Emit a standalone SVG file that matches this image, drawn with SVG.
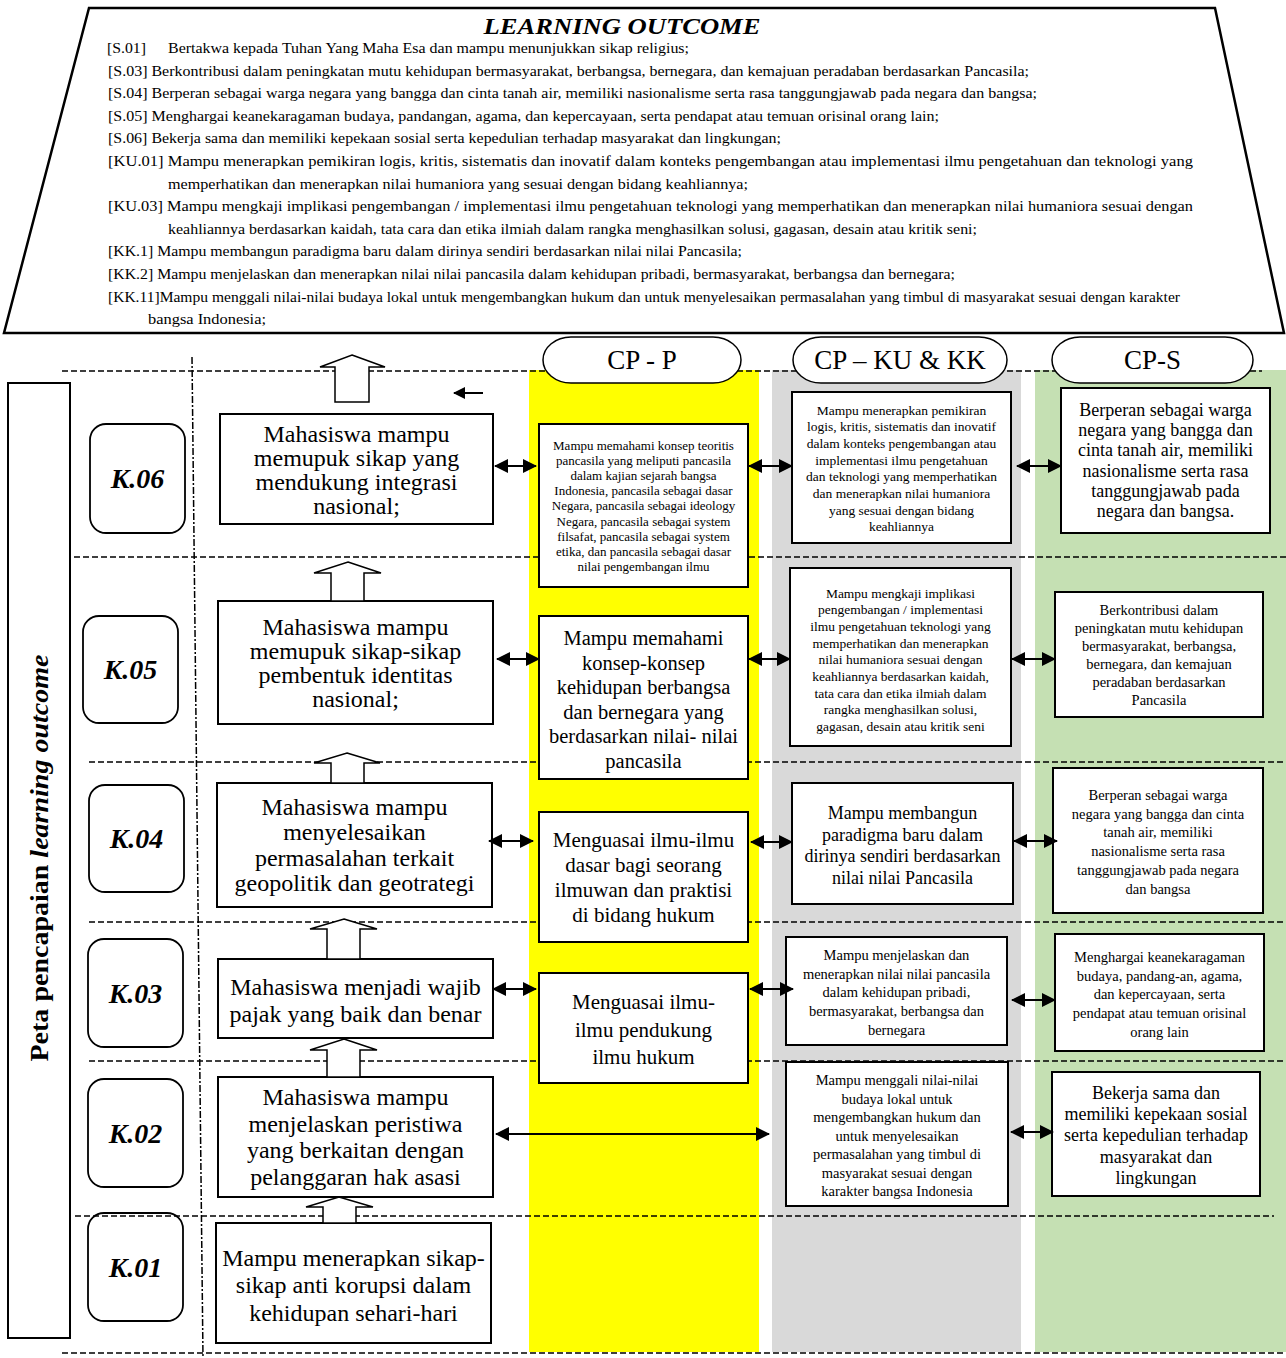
<svg xmlns="http://www.w3.org/2000/svg" width="1286" height="1358" viewBox="0 0 1286 1358">
<defs>
<style>
text{font-family:"Liberation Serif","Times New Roman",serif;fill:#000}
.lo{font-size:14px}
.bx{fill:#fff;stroke:#000;stroke-width:2}
.kb{fill:none;stroke:#000;stroke-width:1.8}
.kt{font-size:28px;font-weight:bold;font-style:italic;text-anchor:middle}
.dl{stroke:#000;stroke-width:1.5;stroke-dasharray:6,3;fill:none}
.ov{fill:#fff;stroke:#000;stroke-width:1.5}
.hd{font-size:27px;text-anchor:middle}
.m{text-anchor:middle}
.t23{font-size:24px}
.t21{font-size:20.5px}
.t18{font-size:18px}
.t145{font-size:14.5px}
.t135{font-size:13.5px}
.t13{font-size:13px}
.ba{fill:#fff;stroke:#000;stroke-width:1.5}
.ar{stroke:#000;stroke-width:2;fill:none;marker-start:url(#ah);marker-end:url(#ah)}
</style>
<marker id="ah" markerUnits="userSpaceOnUse" markerWidth="14" markerHeight="14" refX="13" refY="7" orient="auto-start-reverse"><path d="M0,0 L14,7 L0,14 z" fill="#000"/></marker>
<marker id="ah2" markerUnits="userSpaceOnUse" markerWidth="12" markerHeight="12" refX="11" refY="6" orient="auto"><path d="M0,0 L12,6 L0,12 z" fill="#000"/></marker>
</defs>
<rect width="1286" height="1358" fill="#fff"/>

<g id="learning-outcome">
<polygon points="89,8 1215,8 1284,333 4,333" fill="#fff" stroke="#000" stroke-width="2.5"/>
<text x="622" y="34" font-size="23" font-weight="bold" font-style="italic" text-anchor="middle" textLength="277" lengthAdjust="spacingAndGlyphs">LEARNING OUTCOME</text>
<text class="lo" x="107" y="53" textLength="39" lengthAdjust="spacingAndGlyphs">[S.01]</text>
<text class="lo" x="168" y="53" textLength="521" lengthAdjust="spacingAndGlyphs">Bertakwa kepada Tuhan Yang Maha Esa dan mampu menunjukkan sikap religius;</text>
<text class="lo" x="108" y="75.6" textLength="921" lengthAdjust="spacingAndGlyphs">[S.03] Berkontribusi dalam peningkatan mutu kehidupan bermasyarakat, berbangsa, bernegara, dan kemajuan peradaban berdasarkan Pancasila;</text>
<text class="lo" x="108" y="98.2" textLength="929" lengthAdjust="spacingAndGlyphs">[S.04] Berperan sebagai warga negara yang bangga dan cinta tanah air, memiliki nasionalisme serta rasa tanggungjawab pada negara dan bangsa;</text>
<text class="lo" x="108" y="120.8" textLength="831" lengthAdjust="spacingAndGlyphs">[S.05]  Menghargai keanekaragaman budaya, pandangan, agama, dan kepercayaan, serta pendapat atau temuan orisinal orang lain;</text>
<text class="lo" x="108" y="143.4" textLength="673" lengthAdjust="spacingAndGlyphs">[S.06]  Bekerja sama dan memiliki kepekaan sosial serta kepedulian terhadap masyarakat dan lingkungan;</text>
<text class="lo" x="108" y="166" textLength="1085" lengthAdjust="spacingAndGlyphs">[KU.01] Mampu menerapkan pemikiran logis, kritis, sistematis dan inovatif dalam konteks pengembangan atau implementasi ilmu pengetahuan dan teknologi yang</text>
<text class="lo" x="168" y="188.6" textLength="580" lengthAdjust="spacingAndGlyphs">memperhatikan dan menerapkan nilai  humaniora yang sesuai dengan bidang keahliannya;</text>
<text class="lo" x="108" y="211.2" textLength="1085" lengthAdjust="spacingAndGlyphs">[KU.03] Mampu mengkaji implikasi pengembangan / implementasi ilmu pengetahuan teknologi yang memperhatikan dan menerapkan nilai humaniora sesuai dengan</text>
<text class="lo" x="168" y="233.8" textLength="809" lengthAdjust="spacingAndGlyphs">keahliannya berdasarkan kaidah, tata cara dan etika ilmiah dalam rangka menghasilkan solusi, gagasan, desain atau kritik seni;</text>
<text class="lo" x="108" y="256.4" textLength="634" lengthAdjust="spacingAndGlyphs">[KK.1] Mampu membangun paradigma baru dalam dirinya sendiri berdasarkan nilai nilai Pancasila;</text>
<text class="lo" x="108" y="279" textLength="847" lengthAdjust="spacingAndGlyphs">[KK.2] Mampu menjelaskan dan menerapkan nilai nilai pancasila dalam kehidupan pribadi, bermasyarakat, berbangsa dan bernegara;</text>
<text class="lo" x="108" y="301.6" textLength="1072" lengthAdjust="spacingAndGlyphs">[KK.11]Mampu menggali nilai-nilai budaya lokal untuk mengembangkan hukum dan untuk menyelesaikan permasalahan yang timbul di masyarakat sesuai dengan karakter</text>
<text class="lo" x="148" y="324" textLength="118" lengthAdjust="spacingAndGlyphs">bangsa Indonesia;</text>
</g>

<g id="columns">
<rect x="529" y="370" width="230" height="982" fill="#FFFF00"/>
<rect x="772" y="370" width="249" height="982" fill="#D9D9D9"/>
<rect x="1035" y="370" width="251" height="982" fill="#C5E0B3"/>
</g>

<g id="grid">
<line class="dl" x1="62" y1="371" x2="1262" y2="371"/>
<line class="dl" x1="74" y1="557" x2="1286" y2="557"/>
<line class="dl" x1="89" y1="762" x2="1286" y2="762"/>
<line class="dl" x1="89" y1="922" x2="1286" y2="922"/>
<line class="dl" x1="89" y1="1061" x2="1286" y2="1061"/>
<line class="dl" x1="75" y1="1216" x2="1274" y2="1216"/>
<line class="dl" x1="62" y1="1353" x2="1286" y2="1353"/>
<line x1="192" y1="357" x2="203" y2="1358" stroke="#000" stroke-width="1.5" stroke-dasharray="7,2,2,2"/>
</g>

<g id="side-label">
<rect x="8" y="383" width="62" height="955" fill="#fff" stroke="#000" stroke-width="2"/>
<text transform="translate(48,858) rotate(-90)" font-size="25" font-weight="bold" text-anchor="middle" textLength="407" lengthAdjust="spacingAndGlyphs">Peta pencapaian <tspan font-style="italic">learning outcome</tspan></text>
</g>

<g id="header-cp-p"><rect class="ov" x="543" y="337" width="198" height="46" rx="28" ry="23"/><text class="hd" x="642" y="369">CP - P</text></g>
<g id="header-cp-ku-kk"><rect class="ov" x="793" y="337" width="214" height="46" rx="28" ry="23"/><text class="hd" x="900" y="369">CP – KU &amp; KK</text></g>
<g id="header-cp-s"><rect class="ov" x="1052" y="337" width="201" height="46" rx="28" ry="23"/><text class="hd" x="1152.5" y="369">CP-S</text></g>

<g id="k06"><rect class="kb" x="90" y="424" width="95" height="109" rx="16"/><text class="kt" x="137.5" y="488">K.06</text></g>
<g id="k05"><rect class="kb" x="83" y="616" width="95" height="107" rx="16"/><text class="kt" x="130.5" y="679">K.05</text></g>
<g id="k04"><rect class="kb" x="89" y="785" width="95" height="107" rx="16"/><text class="kt" x="136.5" y="848">K.04</text></g>
<g id="k03"><rect class="kb" x="88" y="939" width="95" height="108" rx="16"/><text class="kt" x="135.5" y="1003">K.03</text></g>
<g id="k02"><rect class="kb" x="88" y="1079" width="95" height="108" rx="16"/><text class="kt" x="135.5" y="1143">K.02</text></g>
<g id="k01"><rect class="kb" x="88" y="1213" width="95" height="108" rx="16"/><text class="kt" x="135.5" y="1277">K.01</text></g>

<g id="b6"><rect class="bx" x="220" y="414" width="273" height="110"/>
<text class="m t23"><tspan x="356.5" y="442">Mahasiswa mampu</tspan><tspan x="356.5" y="466">memupuk sikap yang</tspan><tspan x="356.5" y="490">mendukung integrasi</tspan><tspan x="356.5" y="514">nasional;</tspan></text></g>
<g id="b5"><rect class="bx" x="218" y="601" width="275" height="123"/>
<text class="m t23"><tspan x="355.5" y="634.5">Mahasiswa mampu</tspan><tspan x="355.5" y="658.5">memupuk sikap-sikap</tspan><tspan x="355.5" y="682.5">pembentuk identitas</tspan><tspan x="355.5" y="706.5">nasional;</tspan></text></g>
<g id="b4"><rect class="bx" x="217" y="783" width="275" height="124"/>
<text class="m t23"><tspan x="354.5" y="815">Mahasiswa mampu</tspan><tspan x="354.5" y="840">menyelesaikan</tspan><tspan x="354.5" y="866">permasalahan terkait</tspan><tspan x="354.5" y="891">geopolitik dan geotrategi</tspan></text></g>
<g id="b3"><rect class="bx" x="218" y="959" width="275" height="79"/>
<text class="m t23"><tspan x="355.5" y="995">Mahasiswa menjadi wajib</tspan><tspan x="355.5" y="1022">pajak yang baik dan benar</tspan></text></g>
<g id="b2"><rect class="bx" x="218" y="1077" width="275" height="120"/>
<text class="m t23"><tspan x="355.5" y="1105">Mahasiswa mampu</tspan><tspan x="355.5" y="1132">menjelaskan peristiwa</tspan><tspan x="355.5" y="1158">yang berkaitan dengan</tspan><tspan x="355.5" y="1185">pelanggaran hak asasi</tspan></text></g>
<g id="b1"><rect class="bx" x="216" y="1223" width="275" height="120"/>
<text class="m t23"><tspan x="353.5" y="1266">Mampu menerapkan sikap-</tspan><tspan x="353.5" y="1293">sikap anti korupsi dalam</tspan><tspan x="353.5" y="1321">kehidupan sehari-hari</tspan></text></g>

<g id="p1"><rect class="bx" x="539" y="424" width="209" height="163"/>
<text class="m t13"><tspan x="643.5" y="449.5">Mampu memahami konsep teoritis</tspan><tspan x="643.5" y="464.7">pancasila yang meliputi pancasila</tspan><tspan x="643.5" y="479.9">dalam kajian sejarah bangsa</tspan><tspan x="643.5" y="495.1">Indonesia, pancasila sebagai dasar</tspan><tspan x="643.5" y="510.3">Negara, pancasila sebagai ideology</tspan><tspan x="643.5" y="525.5">Negara, pancasila sebagai system</tspan><tspan x="643.5" y="540.7">filsafat, pancasila sebagai system</tspan><tspan x="643.5" y="555.9">etika, dan pancasila sebagai dasar</tspan><tspan x="643.5" y="571.1">nilai pengembangan ilmu</tspan></text></g>
<g id="p2"><rect class="bx" x="539" y="616" width="209" height="163"/>
<text class="m t21"><tspan x="643.5" y="645">Mampu memahami</tspan><tspan x="643.5" y="669.5">konsep-konsep</tspan><tspan x="643.5" y="694">kehidupan berbangsa</tspan><tspan x="643.5" y="718.5">dan bernegara yang</tspan><tspan x="643.5" y="743">berdasarkan nilai- nilai</tspan><tspan x="643.5" y="767.5">pancasila</tspan></text></g>
<g id="p3"><rect class="bx" x="539" y="812" width="209" height="130"/>
<text class="m" font-size="21"><tspan x="643.5" y="847">Menguasai ilmu-ilmu</tspan><tspan x="643.5" y="872">dasar bagi seorang</tspan><tspan x="643.5" y="897">ilmuwan dan praktisi</tspan><tspan x="643.5" y="922">di bidang hukum</tspan></text></g>
<g id="p4"><rect class="bx" x="539" y="973" width="209" height="110"/>
<text class="m" font-size="21"><tspan x="643.5" y="1009">Menguasai ilmu-</tspan><tspan x="643.5" y="1037">ilmu pendukung</tspan><tspan x="643.5" y="1064">ilmu hukum</tspan></text></g>

<g id="g1"><rect class="bx" x="792" y="392" width="219" height="151"/>
<text class="m t135"><tspan x="901.5" y="414.5">Mampu menerapkan pemikiran</tspan><tspan x="901.5" y="431.2">logis, kritis, sistematis dan inovatif</tspan><tspan x="901.5" y="447.9">dalam konteks pengembangan atau</tspan><tspan x="901.5" y="464.6">implementasi ilmu pengetahuan</tspan><tspan x="901.5" y="481.3">dan teknologi yang memperhatikan</tspan><tspan x="901.5" y="498">dan menerapkan nilai humaniora</tspan><tspan x="901.5" y="514.7">yang sesuai dengan bidang</tspan><tspan x="901.5" y="531.4">keahliannya</tspan></text></g>
<g id="g2"><rect class="bx" x="790" y="568" width="221" height="178"/>
<text class="m t135"><tspan x="900.5" y="597.5">Mampu mengkaji implikasi</tspan><tspan x="900.5" y="614.2">pengembangan / implementasi</tspan><tspan x="900.5" y="630.9">ilmu pengetahuan teknologi yang</tspan><tspan x="900.5" y="647.6">memperhatikan dan menerapkan</tspan><tspan x="900.5" y="664.3">nilai humaniora sesuai dengan</tspan><tspan x="900.5" y="681">keahliannya berdasarkan kaidah,</tspan><tspan x="900.5" y="697.7">tata cara dan etika ilmiah dalam</tspan><tspan x="900.5" y="714.4">rangka menghasilkan solusi,</tspan><tspan x="900.5" y="731.1">gagasan, desain atau kritik seni</tspan></text></g>
<g id="g3"><rect class="bx" x="792" y="783" width="221" height="121"/>
<text class="m t18"><tspan x="902.5" y="819">Mampu membangun</tspan><tspan x="902.5" y="840.5">paradigma baru dalam</tspan><tspan x="902.5" y="862">dirinya sendiri berdasarkan</tspan><tspan x="902.5" y="883.5">nilai nilai Pancasila</tspan></text></g>
<g id="g4"><rect class="bx" x="786" y="937" width="221" height="108"/>
<text class="m t145"><tspan x="896.5" y="960">Mampu menjelaskan dan</tspan><tspan x="896.5" y="978.7">menerapkan nilai nilai pancasila</tspan><tspan x="896.5" y="997.4">dalam kehidupan pribadi,</tspan><tspan x="896.5" y="1016.1">bermasyarakat, berbangsa dan</tspan><tspan x="896.5" y="1034.8">bernegara</tspan></text></g>
<g id="g5"><rect class="bx" x="786" y="1062" width="222" height="144"/>
<text class="m t145"><tspan x="897" y="1085">Mampu menggali nilai-nilai</tspan><tspan x="897" y="1103.5">budaya lokal untuk</tspan><tspan x="897" y="1122">mengembangkan hukum dan</tspan><tspan x="897" y="1140.5">untuk menyelesaikan</tspan><tspan x="897" y="1159">permasalahan yang timbul di</tspan><tspan x="897" y="1177.5">masyarakat sesuai dengan</tspan><tspan x="897" y="1196">karakter bangsa Indonesia</tspan></text></g>

<g id="s1"><rect class="bx" x="1061" y="388" width="209" height="145"/>
<text class="m t18"><tspan x="1165.5" y="416">Berperan sebagai warga</tspan><tspan x="1165.5" y="436.2">negara yang bangga dan</tspan><tspan x="1165.5" y="456.4">cinta tanah air, memiliki</tspan><tspan x="1165.5" y="476.6">nasionalisme serta rasa</tspan><tspan x="1165.5" y="496.8">tanggungjawab pada</tspan><tspan x="1165.5" y="517">negara dan bangsa.</tspan></text></g>
<g id="s2"><rect class="bx" x="1055" y="592" width="208" height="125"/>
<text class="m t145"><tspan x="1159" y="614.5">Berkontribusi dalam</tspan><tspan x="1159" y="632.5">peningkatan mutu kehidupan</tspan><tspan x="1159" y="650.5">bermasyarakat, berbangsa,</tspan><tspan x="1159" y="668.5">bernegara, dan kemajuan</tspan><tspan x="1159" y="686.5">peradaban berdasarkan</tspan><tspan x="1159" y="704.5">Pancasila</tspan></text></g>
<g id="s3"><rect class="bx" x="1053" y="768" width="210" height="145"/>
<text class="m t145"><tspan x="1158" y="800">Berperan sebagai warga</tspan><tspan x="1158" y="818.7">negara yang bangga dan cinta</tspan><tspan x="1158" y="837.4">tanah air, memiliki</tspan><tspan x="1158" y="856.1">nasionalisme serta rasa</tspan><tspan x="1158" y="874.8">tanggungjawab pada negara</tspan><tspan x="1158" y="893.5">dan bangsa</tspan></text></g>
<g id="s4"><rect class="bx" x="1055" y="934" width="209" height="117"/>
<text class="m t145"><tspan x="1159.5" y="962">Menghargai keanekaragaman</tspan><tspan x="1159.5" y="980.7">budaya, pandang-an, agama,</tspan><tspan x="1159.5" y="999.4">dan kepercayaan, serta</tspan><tspan x="1159.5" y="1018.1">pendapat atau temuan orisinal</tspan><tspan x="1159.5" y="1036.8">orang lain</tspan></text></g>
<g id="s5"><rect class="bx" x="1052" y="1072" width="208" height="124"/>
<text class="m t18"><tspan x="1156" y="1099">Bekerja sama dan</tspan><tspan x="1156" y="1120.2">memiliki kepekaan sosial</tspan><tspan x="1156" y="1141.4">serta kepedulian terhadap</tspan><tspan x="1156" y="1162.6">masyarakat dan</tspan><tspan x="1156" y="1183.8">lingkungan</tspan></text></g>

<g id="connectors">
<polygon class="ba" points="352,355 385,367 369,367 369,402 335,402 335,367 320,367"/>
<polygon class="ba" points="348,562 381,573 364,573 364,601 331,601 331,573 314,573"/>
<polygon class="ba" points="347,753 380,763 364,763 364,783 331,783 331,763 314,763"/>
<polygon class="ba" points="344,919 377,929 360,929 360,959 327,959 327,929 310,929"/>
<polygon class="ba" points="344,1039 377,1050 360,1050 360,1077 327,1077 327,1050 310,1050"/>
<polygon class="ba" points="339,1197 373,1207 356,1207 356,1223 323,1223 323,1207 306,1207"/>
<line x1="483" y1="393" x2="454" y2="393" stroke="#000" stroke-width="2" marker-end="url(#ah2)"/>
<line class="ar" x1="495" y1="466" x2="536" y2="466"/>
<line class="ar" x1="749" y1="466" x2="792" y2="466"/>
<line class="ar" x1="1017" y1="466" x2="1061" y2="466"/>
<line class="ar" x1="497" y1="659" x2="539" y2="659"/>
<line class="ar" x1="749" y1="659" x2="790" y2="659"/>
<line class="ar" x1="1012" y1="659" x2="1055" y2="659"/>
<line class="ar" x1="489" y1="841" x2="533" y2="841"/>
<line class="ar" x1="751" y1="842" x2="792" y2="842"/>
<line class="ar" x1="1014" y1="841" x2="1057" y2="841"/>
<line class="ar" x1="493" y1="989" x2="536" y2="989"/>
<line class="ar" x1="750" y1="989" x2="793" y2="989"/>
<line class="ar" x1="1012" y1="1000" x2="1055" y2="1000"/>
<line class="ar" x1="496" y1="1134" x2="769" y2="1134"/>
<line class="ar" x1="1011" y1="1132" x2="1053" y2="1132"/>
</g>
</svg>
